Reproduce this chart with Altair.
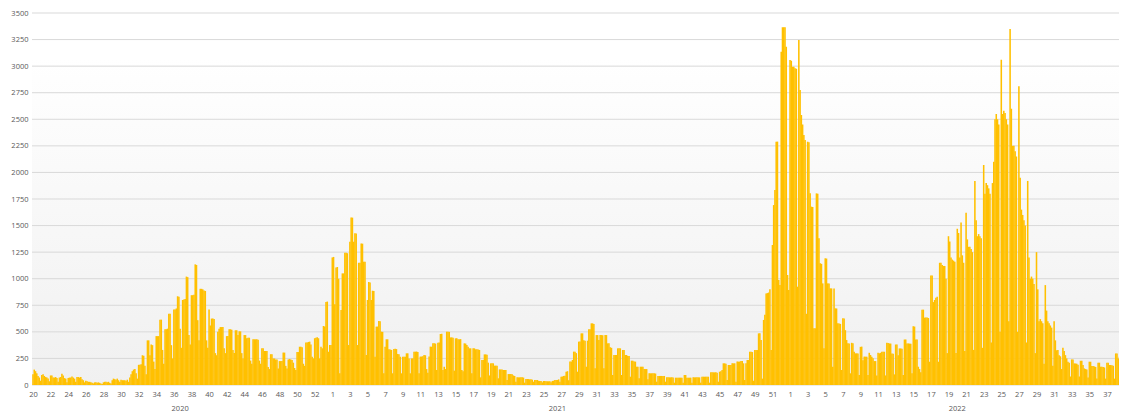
import altair as alt
import pandas as pd
import numpy as np

# Daily values, one row per ISO week (Mon..Sun)
weeks_2020 = [
    [100, 145, 130, 110, 85, 70, 40],      # W20
    [95, 100, 85, 75, 70, 60, 35],
    [90, 90, 70, 70, 75, 65, 30],
    [70, 75, 105, 90, 65, 60, 25],
    [65, 70, 70, 80, 70, 60, 30],
    [75, 75, 70, 75, 55, 45, 25],          # W25
    [40, 35, 30, 30, 25, 20, 15],
    [25, 25, 20, 25, 20, 15, 10],
    [25, 30, 30, 25, 30, 20, 15],
    [45, 60, 55, 50, 60, 45, 30],
    [50, 45, 45, 45, 40, 50, 30],          # W30
    [70, 100, 130, 145, 150, 110, 60],
    [190, 190, 195, 280, 275, 180, 100],
    [420, 420, 280, 380, 375, 220, 150],
    [460, 460, 460, 615, 615, 330, 200],
    [525, 525, 530, 670, 670, 375, 250],   # W35
    [710, 710, 720, 835, 830, 530, 350],
    [800, 805, 810, 1020, 1015, 470, 380],
    [845, 845, 850, 1135, 1130, 610, 420],
    [905, 905, 900, 890, 885, 420, 350],
    [710, 560, 625, 625, 620, 300, 280],   # W40
    [500, 530, 545, 545, 545, 345, 300],
    [460, 460, 525, 525, 520, 330, 300],
    [515, 515, 470, 505, 505, 300, 250],
    [470, 470, 440, 445, 445, 230, 200],
    [430, 430, 430, 430, 425, 230, 200],   # W45
    [345, 345, 320, 320, 320, 170, 150],
    [290, 290, 250, 250, 240, 240, 155],
    [225, 225, 225, 305, 305, 180, 155],
    [240, 245, 240, 235, 210, 160, 140],
    [310, 310, 360, 360, 355, 200, 180],   # W50
    [400, 400, 405, 408, 380, 265, 250],
    [440, 445, 450, 440, 250, 360, 345],
    [555, 550, 780, 785, 313, 376, 376],   # W53
]

weeks_2021 = [
    [1200, 1205, 760, 1105, 1110, 1000, 110],   # W1
    [705, 1050, 1050, 1245, 1245, 1240, 376],
    [1348, 1577, 1575, 1348, 1427, 1425, 376],
    [1150, 1150, 1332, 1330, 1160, 1160, 282],
    [800, 969, 965, 800, 887, 885, 266],        # W5
    [549, 550, 602, 600, 502, 500, 110],
    [361, 430, 430, 336, 335, 330, 110],
    [339, 340, 338, 292, 290, 266, 110],
    [266, 266, 266, 298, 298, 250, 110],
    [250, 250, 313, 313, 315, 310, 110],        # W10
    [267, 268, 270, 282, 280, 150, 116],
    [267, 361, 360, 392, 392, 390, 141],
    [398, 400, 480, 482, 141, 172, 150],
    [502, 502, 500, 448, 448, 445, 135],
    [439, 440, 430, 430, 432, 141, 130],        # W15
    [392, 390, 376, 360, 345, 345, 110],
    [345, 345, 336, 336, 335, 330, 72],
    [235, 236, 288, 288, 285, 210, 90],
    [204, 204, 204, 182, 182, 180, 63],
    [147, 147, 147, 141, 141, 140, 47],         # W20
    [103, 103, 103, 100, 90, 85, 30],
    [72, 72, 72, 72, 72, 70, 22],
    [56, 56, 56, 53, 53, 50, 31],
    [47, 47, 47, 40, 38, 38, 25],
    [38, 38, 35, 35, 35, 36, 25],               # W25
    [38, 40, 47, 47, 47, 53, 30],
    [78, 80, 85, 88, 125, 130, 45],
    [220, 220, 235, 314, 314, 300, 125],
    [408, 410, 486, 486, 420, 417, 172],
    [417, 524, 524, 580, 580, 575, 157],        # W30
    [470, 470, 423, 470, 470, 468, 157],
    [470, 470, 392, 392, 354, 350, 94],
    [282, 282, 282, 345, 345, 345, 94],
    [329, 329, 282, 282, 273, 273, 78],
    [229, 229, 220, 220, 172, 172, 63],         # W35
    [172, 172, 172, 150, 150, 150, 53],
    [110, 110, 110, 110, 110, 108, 31],
    [85, 85, 85, 85, 85, 85, 31],
    [72, 72, 72, 72, 72, 70, 22],
    [69, 69, 69, 69, 69, 68, 22],               # W40
    [94, 94, 69, 69, 69, 69, 22],
    [72, 72, 72, 72, 72, 72, 22],
    [78, 78, 78, 78, 78, 78, 22],
    [119, 119, 119, 119, 119, 115, 31],
    [125, 130, 141, 204, 204, 200, 47],         # W45
    [188, 188, 188, 204, 204, 204, 31],
    [220, 220, 220, 226, 226, 204, 47],
    [204, 235, 235, 314, 314, 310, 40],
    [329, 330, 329, 486, 486, 423, 60],
    [612, 660, 862, 865, 870, 900, 329],        # W50
    [1317, 1693, 1834, 2289, 2290, 988, 941],
    [3136, 3365, 3365, 3365, 3183, 1035, 894],  # W52
]

weeks_2022 = [
    [3058, 3050, 2995, 2995, 2979, 2975, 925],  # W1
    [3246, 2775, 2540, 2450, 2352, 2305, 670],
    [2289, 2285, 1803, 1678, 1675, 533, 533],
    [1803, 1800, 1380, 1145, 1140, 956, 345],
    [1192, 1190, 956, 956, 909, 909, 172],      # W5
    [909, 721, 720, 580, 578, 575, 141],
    [627, 625, 516, 423, 392, 390, 110],
    [397, 392, 313, 298, 298, 297, 94],
    [359, 361, 234, 267, 267, 266, 94],
    [303, 282, 266, 251, 225, 225, 90],         # W10
    [303, 298, 303, 314, 313, 313, 90],
    [397, 395, 391, 390, 297, 295, 100],
    [381, 380, 281, 344, 344, 340, 95],
    [428, 428, 391, 391, 390, 388, 110],
    [553, 550, 428, 428, 172, 150, 120],        # W15
    [709, 709, 634, 634, 634, 630, 219],
    [1030, 1030, 780, 800, 820, 830, 219],
    [1150, 1150, 1130, 1120, 1120, 1000, 300],
    [1400, 1350, 1200, 1180, 1170, 1160, 300],
    [1470, 1430, 1200, 1530, 1220, 1150, 320],  # W20
    [1620, 1370, 1300, 1300, 1280, 1250, 330],
    [1920, 1550, 1400, 1420, 1400, 1380, 350],
    [2070, 1800, 1900, 1880, 1850, 1800, 400],
    [1900, 2100, 2500, 2550, 2500, 2450, 500],
    [3060, 2550, 2580, 2560, 2500, 2450, 600],  # W25
    [3350, 2600, 2250, 2250, 2200, 2150, 500],
    [2810, 1950, 1650, 1600, 1550, 1500, 400],
    [1920, 1200, 1000, 1020, 1000, 950, 300],
    [1250, 900, 600, 620, 600, 580, 200],
    [940, 700, 600, 580, 560, 540, 180],        # W30
    [600, 420, 328, 330, 281, 270, 150],
    [350, 320, 281, 250, 219, 210, 80],
    [241, 241, 203, 203, 200, 190, 80],
    [228, 228, 188, 156, 150, 145, 70],
    [219, 219, 178, 178, 175, 170, 60],         # W35
    [210, 210, 172, 172, 170, 165, 60],
    [210, 210, 188, 188, 185, 180, 60],
    [297, 297, 250, 266, 266, 260, 80],
    [313, 260, 250],                             # W39
]

first_day = "2020-05-11"  # Monday of ISO week 20, 2020
y_ticks = [0, 250, 500, 750, 1000, 1250, 1500, 1750, 2000, 2250, 2500, 2750, 3000, 3250, 3500]
week_labels = (
    [20, 22, 24, 26, 28, 30, 32, 34, 36, 38, 40, 42, 44, 46, 48, 50, 52]
    + [1, 3, 5, 7, 9, 11, 13, 15, 17, 19, 21, 23, 25, 27, 29, 31, 33, 35, 37, 39, 41, 43, 45, 47, 49, 51]
    + [1, 3, 5, 7, 9, 11, 13, 15, 17, 19, 21, 23, 25, 27, 29, 31, 33, 35, 37, 39]
)

values = [v for wk in weeks_2020 + weeks_2021 + weeks_2022 for v in wk]
df = pd.DataFrame({"value": values})
df["day"] = np.arange(len(df))
df["date"] = pd.Timestamp(first_day) + pd.to_timedelta(df["day"], unit="D")
df["x0"] = df["day"] - 0.62
df["x1"] = df["day"] + 0.62
df["year"] = df["date"].dt.year.astype(str)

yr = df.groupby("year")["day"].agg(["min", "max"]).reset_index()
yr["center"] = (yr["min"] + yr["max"]) / 2

W, H = 1087, 372
domain = [-0.8, 863.6]
tick_days = [14 * i for i in range(len(week_labels)) if 14 * i <= domain[1]]
label_expr = "[" + ",".join(str(w) for w in week_labels) + "][round(datum.value / 14)]"

FONT = "Open Sans"
TXT = "#595959"

x_scale = alt.Scale(domain=domain, nice=False, zero=False)
y_scale = alt.Scale(domain=[0, 3500], nice=False)
y_axis = alt.Axis(values=y_ticks, format="d", grid=False, domain=False, ticks=False, title=None,
                  labelFont=FONT, labelFontSize=7.5, labelColor=TXT, labelPadding=4)
x_axis = alt.Axis(values=tick_days, labelExpr=label_expr, grid=False, domain=False,
                  ticks=False, tickSize=0, title=None, labelFont=FONT, labelFontSize=7.5,
                  labelColor=TXT, labelPadding=5, labelFlush=False, labelOverlap=False)

bg = alt.Chart(pd.DataFrame({"a": [0]})).mark_rect(
    color=alt.LinearGradient(
        gradient="linear",
        stops=[alt.GradientStop(color="#ffffff", offset=0),
               alt.GradientStop(color="#ffffff", offset=0.12),
               alt.GradientStop(color="#f0f0f0", offset=1)],
        x1=0, x2=0, y1=0, y2=1,
    )
).encode(x=alt.value(0), x2=alt.value(W), y=alt.value(0), y2=alt.value(H))

grid = alt.Chart(pd.DataFrame({"v": y_ticks})).mark_rule(
    color="#d9d9d9", strokeWidth=1
).encode(
    y=alt.Y("v:Q", scale=y_scale, axis=y_axis),
    x=alt.value(0), x2=alt.value(W),
)

bars = alt.Chart(df).mark_bar(color="#FFC000", clip=True).encode(
    x=alt.X("x0:Q", scale=x_scale, axis=x_axis),
    x2="x1:Q",
    y=alt.Y("value:Q", scale=y_scale, axis=y_axis),
    y2=alt.datum(0),
)

years = alt.Chart(yr).mark_text(
    font=FONT, fontSize=7.5, color=TXT, baseline="middle", align="center"
).encode(
    x=alt.X("center:Q", scale=x_scale, axis=x_axis),
    y=alt.value(H + 24),
    text="year:N",
)

chart = alt.layer(bg, grid, bars, years).properties(
    width=W, height=H,
    autosize=alt.AutoSizeParams(type="none"),
    padding={"left": 24, "top": 5, "right": 0, "bottom": 28},
    background="#ffffff",
).configure_view(stroke=None)

chart.save("out.html", embed_options={"renderer": "svg", "actions": False})
